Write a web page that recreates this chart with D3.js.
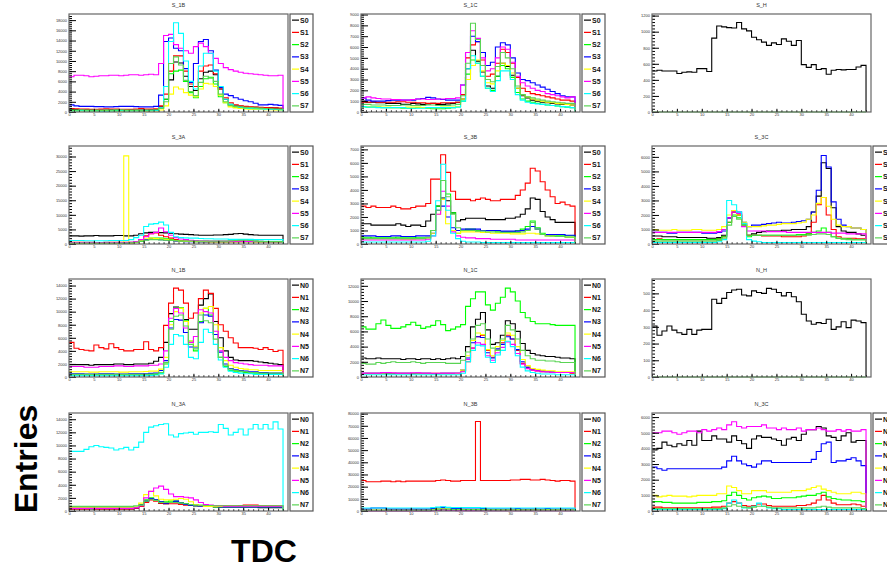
<!DOCTYPE html>
<html lang="en">
<head>
<meta charset="UTF-8">
<title>TDC histograms</title>
<script src="https://d3js.org/d3.v7.min.js"></script>
<style>
  body { margin: 0; background: #fff; }
  svg { display: block; font-family: "Liberation Sans", Arial, sans-serif; }
</style>
</head>
<body>
<div id="chart"></div>
<script>
// ---- data: 43 TDC bins per series ----
const panelTitles = ["S_1B", "S_1C", "S_H", "S_3A", "S_3B", "S_3C", "N_1B", "N_1C", "N_H", "N_3A", "N_3B", "N_3C"];
const yMax  = [19200, 9050, 1220, 33600, 7250, 6750, 15000, 12900, 586, 14950, 80500, 6260];
const yStep = [2000, 1000, 200, 5000, 1000, 1000, 2000, 2000, 100, 2000, 10000, 1000];
const xTicks = [0, 5, 10, 15, 20, 25, 30, 35, 40];
const sLabels = ["S0", "S1", "S2", "S3", "S4", "S5", "S6", "S7"];
const nLabels = ["N0", "N1", "N2", "N3", "N4", "N5", "N6", "N7"];
const lineColors = ["#000000", "#ff0000", "#00ff00", "#0000ff", "#ffff00", "#ff00ff", "#00ffff", "#59d454"];

// S_1B
const s1b_0 = [500,500,450,450,450,400,400,400,450,450,400,400,450,400,400,400,450,500,1000,2500,6300,9800,9600,7000,5000,4200,6500,7800,8000,7300,4500,2500,1500,1200,1100,1000,900,900,850,800,800,750,700];
const s1b_1 = [700,650,600,600,550,550,600,650,600,600,550,550,550,600,700,600,600,650,1200,3500,8000,11000,11000,8000,5500,5000,8000,9000,9200,7500,4500,2800,1800,1400,1200,1100,1000,950,900,850,800,800,750];
const s1b_2 = [300,300,300,250,250,300,300,250,250,300,300,250,300,300,250,250,300,300,700,2500,7500,8000,8200,6000,3800,2800,5000,6500,6800,5500,3000,1800,1200,900,800,700,650,600,600,550,500,500,450];
const s1b_3 = [1400,1200,1100,1100,1100,1050,1050,1000,1000,1050,1100,1100,1100,1050,1000,1000,1000,1100,3300,13800,14500,12500,12000,8500,5800,9500,13800,14200,12000,8200,4800,3500,3200,2800,2500,2200,2000,1700,1400,1400,1500,1400,1300];
const s1b_4 = [200,200,200,200,150,150,200,200,200,150,150,200,200,200,150,150,200,200,400,1200,3500,4900,4500,3800,3300,3000,4500,5600,5500,5000,3300,1800,1000,800,700,600,550,500,500,450,450,400,400];
const s1b_5 = [6900,7200,7200,7100,6900,7000,7100,7100,7200,7200,7100,7200,7300,7300,7200,7300,7400,7300,9500,15000,15200,13200,12500,12000,11500,12800,13500,12800,11500,10500,9500,8700,8300,8000,7800,7600,7500,7400,7300,7200,7100,7100,7200];
const s1b_6 = [200,200,250,200,200,200,150,150,200,200,250,200,200,200,200,250,250,300,800,5000,13800,17500,15400,10000,6000,4500,9000,11500,11500,8000,5000,2500,1500,1100,900,800,700,650,600,550,500,500,450];
const s1b_7 = [400,400,450,400,400,400,350,400,400,450,450,400,400,400,350,400,400,450,700,2000,9500,10800,9200,6200,4000,3200,5800,7000,6600,6000,3500,2000,1300,1100,1000,900,850,800,750,700,650,600,600];

// S_1C
const s1c_0 = [1000,900,900,850,850,800,800,800,700,700,800,750,700,750,800,700,700,750,800,900,1200,4000,5700,4700,3700,2400,2200,3300,4500,4200,3400,2200,1500,1300,1100,1000,900,850,800,750,700,700,650];
const s1c_1 = [900,900,950,900,900,900,900,950,950,900,900,850,850,800,800,800,850,850,850,900,1600,5000,6200,6500,4800,3300,3500,4500,5800,5500,4500,3200,2200,1900,1700,1600,1500,1400,1300,1200,1100,1100,1000];
const s1c_2 = [500,450,450,450,400,400,400,400,350,350,350,400,400,350,300,300,300,350,400,500,1000,3500,4800,4500,3300,2200,2000,3300,4300,4000,3200,1800,1200,1000,900,800,700,650,600,550,500,450,400];
const s1c_3 = [1300,1100,1000,1000,1000,1050,1100,1100,1100,1100,1100,1200,1250,1350,1300,1200,1150,1100,1100,1100,2500,5500,7000,6500,5500,4300,4600,6000,6400,6200,5000,3600,3000,2900,2700,2500,2300,2100,1900,1700,1500,1400,1400];
const s1c_4 = [500,500,450,450,450,450,400,400,400,450,450,450,400,400,400,400,450,450,450,500,1200,3000,4300,4800,3800,2700,2600,3800,4500,4300,3600,2200,1600,1400,1200,1100,1000,900,850,800,750,700,650];
const s1c_5 = [1300,1400,1300,1250,1200,1200,1150,1150,1100,1100,1150,1200,1200,1150,1150,1200,1200,1250,1250,1300,2500,5500,7500,6800,5000,3800,4000,5000,6000,5800,4600,3300,2700,2400,2200,2000,1900,1700,1600,1500,1400,1300,1400];
const s1c_6 = [500,450,450,400,400,400,400,400,400,350,350,350,350,400,400,400,400,400,400,450,1000,4000,5200,4500,3300,2200,1900,2900,3800,3800,3000,1600,1100,900,800,750,700,650,600,550,500,450,400];
const s1c_7 = [700,700,650,650,650,600,600,600,650,650,600,600,600,650,650,600,600,600,650,700,1500,4500,8200,6700,4300,3000,2800,4200,5500,5000,4000,2400,1600,1400,1300,1200,1100,1000,950,900,850,800,800];

// S_H
const sh_0 = [510,520,510,510,510,480,495,500,495,540,540,505,920,1070,1060,1050,1045,1115,1035,1010,930,900,870,830,860,840,910,880,830,890,590,555,590,530,540,470,520,530,525,530,530,560,580];
const sh_7 = [0,0,0,0,0,0,0,0,0,0,0,0,0,0,0,0,0,0,0,0,0,0,0,0,0,0,0,0,0,0,0,0,0,0,0,0,0,0,0,0,0,0,0];

// S_3A
const s3a_0 = [2800,2800,2700,2800,2800,2900,2800,2800,2800,2900,2900,2800,2800,3000,3500,3800,4000,4000,3900,3800,3700,3500,3400,3300,3200,3100,3000,3000,3000,3100,3100,3200,3300,3500,3600,3400,3200,3100,3000,3000,3000,3000,3000];
const s3a_1 = [600,600,600,550,550,500,500,550,550,600,600,600,600,800,1500,2800,3500,3800,3000,2500,2000,1500,1200,1000,900,900,850,800,800,800,800,750,750,800,900,900,850,800,800,750,750,700,700];
const s3a_2 = [300,300,300,300,300,300,300,300,300,300,300,300,300,500,1000,1500,2000,2000,2000,1800,1500,1200,1000,900,900,800,800,800,800,800,800,800,900,1200,1400,1500,1400,1000,800,800,700,700,700];
const s3a_3 = [400,400,400,400,400,400,400,400,400,400,400,400,400,600,1200,1500,1800,1700,1500,1300,1200,1000,900,800,800,800,700,700,700,700,700,700,700,700,700,700,700,700,700,700,700,700,700];
const s3a_4 = [200,200,200,200,200,200,200,200,200,200,200,30200,200,500,1200,1800,2000,1900,1700,1500,1300,1100,1000,900,900,800,800,800,700,700,700,700,700,700,700,700,700,700,700,700,700,700,700];
const s3a_5 = [500,500,500,500,500,500,500,500,500,500,500,500,600,800,1500,2500,3500,4000,5500,4200,3000,2200,1700,1500,1300,1200,1100,1100,1000,1000,1000,1000,1000,1000,1000,900,900,900,900,800,800,800,800];
const s3a_6 = [1200,1200,1200,1100,1100,1100,1100,1100,1200,1200,1200,1200,1500,2200,3000,6000,6800,7000,7500,6500,4000,2500,2200,2100,2000,2000,1900,1800,1800,1700,1700,1700,1600,1600,1600,1600,1600,1500,1500,1500,1500,1500,1500];
const s3a_7 = [300,300,300,300,300,300,300,300,300,300,300,300,400,600,1000,1300,1500,1500,1400,1300,1200,1100,1000,1000,1000,1000,1000,1000,1000,1000,1000,1000,1100,1200,1300,1300,1200,1000,900,800,800,800,800];

// S_3B
const s3b_0 = [1500,1500,1400,1400,1400,1400,1400,1500,1400,1300,1400,1400,1300,1700,2200,2800,3400,3200,2300,1700,1800,1900,1900,1900,1900,1800,1800,1800,1800,1900,1900,2000,2200,2600,3400,3300,2400,2000,1800,1600,1600,1600,1600];
const s3b_1 = [2800,2700,2800,2700,2700,2700,2800,2700,2600,2600,2700,2800,2800,3000,4800,4800,6600,5300,3900,3300,3300,3300,3200,3300,3400,3300,3200,3200,3300,3300,3300,3600,4000,4500,5600,5400,4600,4000,3500,3000,3100,2900,2800];
const s3b_2 = [500,500,450,450,450,450,450,500,500,500,500,450,450,500,1000,2800,4700,3700,2300,800,1000,1100,1100,1000,1000,1000,1000,900,900,900,900,1000,1100,1300,1700,1200,800,700,600,600,600,600,600];
const s3b_3 = [600,600,600,550,550,550,600,600,550,550,550,600,600,600,800,2500,2800,2000,1200,1000,1100,1100,1100,1100,1000,1000,1000,1000,950,950,950,950,1000,1100,1300,1100,700,700,700,700,700,650,650];
const s3b_4 = [400,400,400,400,400,400,400,400,350,350,350,400,400,450,800,2200,3300,1500,1000,800,900,900,900,900,850,850,800,800,800,800,750,750,750,800,800,750,700,600,600,550,550,500,500];
const s3b_5 = [300,300,300,300,300,300,300,300,300,300,300,300,300,350,600,2200,3900,2800,900,600,500,450,450,400,400,400,350,350,350,350,350,300,300,300,300,300,300,300,300,300,300,300,300];
const s3b_6 = [150,150,150,150,150,150,150,150,150,150,150,150,150,200,600,3200,5900,2500,800,400,200,150,150,150,100,100,100,100,100,100,100,100,100,100,100,100,100,100,100,100,100,100,100];
const s3b_7 = [400,400,400,400,400,400,400,400,400,400,400,400,400,450,1000,2500,4700,3500,2200,1200,1000,1000,1000,950,950,900,900,900,850,850,850,850,900,1000,1600,1100,700,600,600,550,550,500,500];

// S_3C
const s3c_0 = [550,550,500,500,500,450,450,450,450,450,450,400,400,450,600,1800,2200,2000,1400,600,700,800,850,900,900,900,950,950,1000,1000,1000,1200,2200,3300,5600,5200,2500,1200,900,800,800,700,600];
const s3c_1 = [300,350,300,300,300,300,300,300,300,300,300,300,300,350,500,1500,2200,2000,1300,600,600,600,550,550,550,550,500,500,500,500,550,700,1500,2700,3200,2000,1000,500,400,400,400,350,350];
const s3c_2 = [300,300,300,300,300,300,300,300,300,300,300,300,300,350,500,1500,2000,1800,1300,500,600,600,600,600,600,600,600,600,600,650,650,700,800,900,1100,800,500,400,350,350,300,300,300];
const s3c_3 = [800,800,800,750,750,800,800,800,800,800,750,750,750,800,900,1800,2300,2200,1500,1200,1300,1300,1350,1400,1450,1500,1450,1450,1500,1550,1600,1700,2200,3700,6100,5300,2900,1700,1300,1200,1100,1100,1000];
const s3c_4 = [1000,950,950,950,1000,950,950,950,1000,1000,950,950,950,1000,1200,2000,2300,2000,1500,1200,1200,1200,1250,1300,1300,1350,1400,1400,1400,1450,1500,1700,2000,2800,3200,2600,1700,1300,1200,1200,1100,1100,1000];
const s3c_5 = [800,800,800,800,800,800,800,800,800,800,800,800,800,850,1000,1800,2200,2100,1200,900,900,900,900,850,850,850,850,800,800,800,800,800,800,800,800,800,750,750,750,700,700,700,700];
const s3c_6 = [100,100,100,100,100,100,100,100,100,100,100,100,100,150,300,3000,2700,2200,1400,300,200,150,100,100,100,100,100,100,100,100,100,100,100,100,100,100,100,100,100,100,100,100,100];
const s3c_7 = [200,200,200,200,200,200,200,200,200,200,200,200,200,250,400,1300,1900,1700,1300,600,600,600,600,600,600,600,600,600,600,600,600,600,650,700,700,650,500,400,350,300,300,300,300];

// N_1B
const n1b_0 = [1900,1900,1900,1900,1800,1900,1900,1900,1900,2000,2000,1900,1900,2000,2000,2000,2100,2400,3000,5300,9700,10700,10500,8800,7300,7300,11000,12000,12700,8500,6000,4000,3000,2600,2500,2500,2500,2400,2300,2200,2100,2000,1900];
const n1b_1 = [5300,4400,4200,4100,4000,4900,4500,4300,5100,4500,4200,4000,4000,4200,4200,5400,4200,4000,4500,7900,11300,13600,13300,11300,9000,9800,12000,13300,12800,10500,8000,7000,6000,5200,4500,4500,4500,4400,4200,4500,4200,3900,4100];
const n1b_2 = [300,300,300,300,300,300,300,300,300,300,300,300,300,300,300,300,350,400,500,2000,8500,10600,10600,8600,5500,4000,8500,10500,9500,6500,3000,1600,1000,900,800,700,600,600,600,500,500,500,500];
const n1b_3 = [500,500,500,450,450,450,500,500,500,450,450,450,500,500,500,500,550,600,1000,2500,7500,8800,8700,6800,4600,4600,8300,9500,9300,6500,3800,2000,1300,1100,1000,900,800,800,700,700,600,600,600];
const n1b_4 = [800,800,800,800,750,750,800,800,800,800,750,750,800,800,800,850,900,900,1200,3000,8000,10000,10500,8500,5500,4700,9800,10500,10800,8000,4500,2500,1800,1500,1300,1200,1100,1100,1000,1000,1000,1000,1000];
const n1b_5 = [1600,1600,1600,1500,1500,1500,1600,1600,1600,1700,1700,1600,1600,1700,1700,1700,1800,1800,2000,4000,9000,10500,9800,7500,5300,6200,10300,10000,9800,7000,4000,3000,2500,2200,2100,2000,1900,1800,1800,1800,1700,1700,1700];
const n1b_6 = [200,200,200,200,200,200,200,200,200,200,200,200,200,200,200,200,250,300,500,1500,5000,6500,6300,5000,3000,2800,5300,7300,6800,5000,2600,1500,900,700,600,500,500,400,400,400,400,400,400];
const n1b_7 = [400,400,400,400,400,400,400,400,400,400,400,400,400,400,400,400,450,500,700,2200,7300,9300,9500,7800,5000,4300,9500,8600,8300,5800,3000,1800,1200,1000,900,800,700,700,600,600,600,600,600];

// N_1C
const n1c_0 = [2500,2400,2400,2500,2400,2400,2400,2400,2300,2400,2400,2300,2400,2400,2300,2400,2300,2400,2500,2400,2700,4000,6600,7600,8500,6200,4300,4500,5500,7400,7000,6000,4400,3500,3100,2900,2800,2700,2700,2600,2500,2500,2400];
const n1c_1 = [500,500,500,500,550,550,500,500,500,500,500,500,500,500,500,500,500,500,500,500,800,2000,3800,5300,5500,3500,2600,3500,4500,5500,5000,3500,1800,1200,900,800,700,700,600,600,600,600,500];
const n1c_2 = [6600,6300,6300,7000,7500,6800,6400,6400,6600,6900,7200,6800,6400,6600,6800,7400,6900,6100,6300,6600,6900,9300,10300,11200,11200,9500,8800,9700,10500,11700,11200,10000,8500,7800,7300,7000,7000,7000,6900,6800,6800,6800,6800];
const n1c_3 = [500,500,500,500,500,450,450,500,500,500,450,500,500,500,450,450,500,500,500,500,900,2500,4500,5300,5200,3200,2500,3700,4300,5300,5000,3600,2000,1300,1000,900,800,700,700,600,600,600,600];
const n1c_4 = [400,400,400,400,400,400,400,400,400,400,400,400,400,400,400,400,400,400,400,450,900,2800,4800,5800,5600,3600,2800,4000,4800,5800,5500,4000,2300,1500,1100,1000,900,800,800,700,700,700,700];
const n1c_5 = [500,500,500,500,600,600,550,500,500,500,550,550,500,500,500,500,500,500,500,500,700,2300,3800,4500,4300,2800,2200,3200,3900,4600,4300,3100,1700,1100,900,800,700,700,600,600,600,600,600];
const n1c_6 = [300,300,300,300,300,300,300,300,300,300,300,300,300,300,300,300,300,300,300,300,500,2000,3500,4200,4100,2600,1900,2900,3500,4700,4000,2800,1300,800,600,500,400,400,400,300,300,300,300];
const n1c_7 = [1800,1700,1700,1900,1800,1900,2000,1900,1900,1900,2000,1900,1800,1900,1900,1900,1900,1800,1800,1800,2200,3300,5000,6800,7000,5000,3800,3500,5000,6800,6200,5000,3500,2800,2400,2200,2200,2100,2100,2000,1900,1900,1900];

// N_H
const nh_0 = [305,250,275,305,280,265,255,285,255,280,285,285,465,440,470,505,520,525,490,485,515,505,500,530,525,505,485,505,480,450,375,335,315,325,320,345,285,300,330,295,340,335,325];
const nh_7 = [0,0,0,0,0,0,0,0,0,0,0,0,0,0,0,0,0,0,0,0,0,0,0,0,0,0,0,0,0,0,0,0,0,0,0,0,0,0,0,0,0,0,0];

// N_3A
const n3a_0 = [300,300,300,300,300,300,300,300,300,300,300,300,300,400,700,1500,1800,1600,1200,1100,1300,1400,1300,1100,900,800,700,700,700,600,600,600,600,600,600,600,600,600,500,500,500,500,500];
const n3a_1 = [300,300,300,300,400,300,300,300,300,300,300,300,300,400,700,1300,1700,1500,1200,1100,1100,1100,1000,900,900,800,800,800,800,800,800,800,800,800,850,900,900,900,800,800,800,800,800];
const n3a_2 = [500,500,500,500,500,500,500,500,500,500,500,500,500,600,1000,1700,2000,1700,1400,1400,1500,1500,1300,1100,900,800,700,700,700,600,600,600,600,600,600,600,600,600,600,600,600,600,600];
const n3a_3 = [400,400,400,400,400,400,400,400,400,400,400,400,400,500,900,1500,1900,1700,1400,1200,1300,1500,1200,1000,900,800,700,700,700,700,600,600,600,600,600,600,600,600,600,600,600,600,600];
const n3a_4 = [500,500,500,500,500,500,500,500,500,500,500,500,500,600,1200,2500,3000,2300,1800,1700,1700,1800,1900,1800,1400,1000,800,700,700,700,700,700,700,700,700,700,700,700,700,700,700,700,700];
const n3a_5 = [400,400,400,400,400,400,400,400,400,400,400,400,400,500,800,2000,3000,3500,3800,3300,2600,2200,2200,2100,2000,1700,1300,1000,900,800,800,700,700,700,700,700,700,700,700,700,700,700,700];
const n3a_6 = [9100,9100,9100,9400,9800,10000,9800,9700,9600,9300,9500,9700,9300,9700,10500,12000,12800,13000,13200,13300,11600,11300,11800,11900,12000,11700,12000,12000,12100,12000,13200,12600,11600,12000,12500,11600,12500,13200,12500,13200,12500,13600,12500];
const n3a_7 = [700,700,700,700,700,700,700,700,700,700,700,700,700,800,900,1500,1800,1600,1300,1300,1300,1300,1200,1100,1000,900,900,850,850,800,800,800,800,800,800,800,800,800,800,800,800,800,800];

// N_3B
const n3b_0 = [500,500,500,500,500,500,500,500,500,500,500,500,500,500,500,800,1000,800,700,600,600,600,600,600,600,600,600,600,600,600,600,600,1000,1000,1000,800,600,600,600,600,600,600,600];
const n3b_1 = [25000,24000,24000,24000,24500,24500,24000,24500,24000,24500,24500,24500,24500,24500,24500,25000,25500,25000,24500,24500,25000,25000,25000,73500,25000,25000,25000,25000,25000,25000,25500,25500,26000,26000,25500,25500,26000,25500,25000,24500,25000,25000,24500];
const n3b_2 = [300,300,300,300,300,300,300,300,300,300,300,300,300,300,500,1200,1500,1200,1000,900,900,900,900,900,1000,1000,900,800,800,800,700,700,700,700,700,700,700,700,700,700,700,700,700];
const n3b_3 = [1500,1500,2500,2500,2500,1500,1500,1500,1500,1500,1500,1500,1500,1500,2000,2500,3000,2500,2000,2000,2500,2500,2500,2500,2000,1500,1500,1500,1500,1500,1500,2000,1500,1500,1500,1500,1500,2000,1500,1500,1500,1500,1500];
const n3b_4 = [500,500,500,500,500,500,500,500,500,500,500,500,500,500,800,1500,2000,1500,1000,800,800,800,800,800,700,700,700,700,700,700,700,700,700,700,700,700,700,700,700,700,700,700,700];
const n3b_5 = [100,100,100,100,100,100,100,100,100,100,100,100,100,100,300,700,1000,700,400,300,300,300,300,300,300,300,300,200,200,200,200,200,200,200,200,200,200,200,200,200,200,200,200];
const n3b_6 = [2500,2500,2500,2500,2500,2500,2500,2500,2500,2500,2500,2500,2500,2500,2800,3200,3500,3000,2800,2800,2800,2800,2800,2800,2600,2500,2500,2500,2500,2500,2500,2500,2500,2500,2500,2500,2500,2500,2500,2500,2500,2500,2500];
const n3b_7 = [600,600,600,600,600,600,600,600,600,600,600,600,600,600,800,1500,1800,1400,1100,1000,1000,1000,1000,900,900,900,900,900,800,800,800,800,800,800,800,800,800,800,800,800,800,800,800];

// N_3C
const n3c_0 = [3900,4000,4400,4200,4100,4300,4200,4500,4200,5100,4500,4500,4800,4600,4600,4400,4800,4500,4300,4000,4600,4800,4700,4700,4600,4500,4200,4600,4700,4500,4900,5200,5200,5400,5300,4800,4700,4500,4800,5000,4400,4500,4500];
const n3c_1 = [250,250,200,200,200,200,200,200,200,200,200,200,250,250,300,500,600,500,350,300,350,450,450,350,300,300,300,300,300,350,350,400,500,700,1000,700,500,400,400,400,450,400,300];
const n3c_2 = [600,600,550,550,500,500,500,500,500,550,550,550,600,600,650,1000,1200,1000,800,700,850,900,950,900,800,800,850,850,850,900,950,1000,1000,1100,1200,900,800,750,700,700,650,650,600];
const n3c_3 = [2800,2700,2600,2700,2700,2700,2700,2700,2700,2700,2700,2700,2700,2700,2800,3200,3500,3200,3000,2900,2800,3000,3200,3200,3100,3100,3100,3100,3100,3100,3100,3100,3300,3800,4300,4400,3100,3200,3200,3300,3400,3200,2900];
const n3c_4 = [1000,900,950,1000,950,950,950,900,950,1000,1000,1000,1000,1100,1100,1600,1500,1300,1100,1100,1300,1300,1300,1200,1200,1200,1200,1200,1300,1300,1300,1400,1500,1600,1400,1300,1200,1100,1100,1100,1200,1200,1100];
const n3c_5 = [5000,5000,5100,5100,5000,4900,5000,5100,5100,5000,5200,5100,5200,5300,5200,5500,5700,5400,5300,5400,5400,5400,5500,5300,5300,5200,5300,5200,5200,5300,5100,5200,5200,5300,5200,5100,5100,5200,5100,5200,5100,5100,5200];
const n3c_6 = [100,100,100,100,100,100,100,100,100,100,100,100,100,100,150,500,700,500,200,200,300,500,300,200,150,150,100,100,100,100,100,100,100,100,100,100,100,100,100,100,100,100,100];
const n3c_7 = [150,150,150,150,150,150,150,150,150,150,150,150,150,150,200,300,400,300,250,200,250,300,300,250,200,200,200,200,200,200,200,200,200,250,300,250,200,200,200,200,200,200,150];

const panelSeries = [
  [s1b_0, s1b_1, s1b_2, s1b_3, s1b_4, s1b_5, s1b_6, s1b_7],
  [s1c_0, s1c_1, s1c_2, s1c_3, s1c_4, s1c_5, s1c_6, s1c_7],
  [sh_0, null, null, null, null, null, null, sh_7],
  [s3a_0, s3a_1, s3a_2, s3a_3, s3a_4, s3a_5, s3a_6, s3a_7],
  [s3b_0, s3b_1, s3b_2, s3b_3, s3b_4, s3b_5, s3b_6, s3b_7],
  [s3c_0, s3c_1, s3c_2, s3c_3, s3c_4, s3c_5, s3c_6, s3c_7],
  [n1b_0, n1b_1, n1b_2, n1b_3, n1b_4, n1b_5, n1b_6, n1b_7],
  [n1c_0, n1c_1, n1c_2, n1c_3, n1c_4, n1c_5, n1c_6, n1c_7],
  [nh_0, null, null, null, null, null, null, nh_7],
  [n3a_0, n3a_1, n3a_2, n3a_3, n3a_4, n3a_5, n3a_6, n3a_7],
  [n3b_0, n3b_1, n3b_2, n3b_3, n3b_4, n3b_5, n3b_6, n3b_7],
  [n3c_0, n3c_1, n3c_2, n3c_3, n3c_4, n3c_5, n3c_6, n3c_7]
];

// ---- layout ----
const width = 887, height = 568;
const colLeft = [69, 361, 652];
const rowTop = [14, 146, 279, 413];
const frameW = 219, frameH = 98;
const legendW = 23;
const nBins = 43;

const svg = d3.select("#chart").append("svg")
  .attr("width", width).attr("height", height);

const stepLine = d3.line().curve(d3.curveStepAfter);

panelTitles.forEach((title, p) => {
  const fx = colLeft[p % 3], fy = rowTop[Math.floor(p / 3)];
  const x = d3.scaleLinear().domain([0, 44]).range([fx, fx + frameW]);
  const y = d3.scaleLinear().domain([0, yMax[p]]).range([fy + frameH, fy]);
  const g = svg.append("g");

  g.append("rect")
    .attr("x", fx).attr("y", fy).attr("width", frameW).attr("height", frameH)
    .attr("fill", "#fff");

  // histograms, S0 first so S7 ends on top
  panelSeries[p].forEach((vals, k) => {
    if (!vals) return;
    if (vals.length !== nBins) console.warn(title, k, vals.length);
    const pts = vals.map((v, i) => [x(i), y(v)]);
    pts.push([x(nBins), y(vals[nBins - 1])], [x(nBins), y(0)]);
    g.append("path")
      .attr("d", stepLine(pts))
      .attr("fill", "none")
      .attr("stroke", lineColors[k])
      .attr("stroke-width", 1.1);
  });

  // y axis: ticks point into the frame
  const yMajor = d3.range(0, yMax[p] + 1, yStep[p]);
  const yMinor = d3.range(0, yMax[p], yStep[p] / 5);
  g.append("g").attr("transform", `translate(${fx},0)`)
    .call(d3.axisLeft(y).tickValues(yMinor).tickSize(-3).tickFormat(""))
    .call(a => a.select(".domain").remove());
  g.append("g").attr("transform", `translate(${fx},0)`)
    .call(d3.axisLeft(y).tickValues(yMajor).tickSize(-7).tickPadding(2).tickFormat(d3.format("d")))
    .call(a => a.select(".domain").remove())
    .call(a => a.selectAll("text").attr("font-size", 4).attr("fill", "#333"));

  // x axis: ticks point up into the frame
  g.append("g").attr("transform", `translate(0,${fy + frameH})`)
    .call(d3.axisBottom(x).tickValues(d3.range(0, 44)).tickSize(-1.6).tickFormat(""))
    .call(a => a.select(".domain").remove());
  g.append("g").attr("transform", `translate(0,${fy + frameH})`)
    .call(d3.axisBottom(x).tickValues(xTicks).tickSize(-3.2).tickPadding(2).tickFormat(d3.format("d")))
    .call(a => a.select(".domain").remove())
    .call(a => a.selectAll("text").attr("font-size", 4).attr("fill", "#333").attr("dy", "0.5em"));

  g.append("rect")
    .attr("x", fx).attr("y", fy).attr("width", frameW).attr("height", frameH)
    .attr("fill", "none").attr("stroke", "#666").attr("stroke-width", 1.2);

  g.append("text")
    .attr("x", fx + frameW / 2).attr("y", fy - 7)
    .attr("text-anchor", "middle")
    .attr("font-size", 5.5).attr("fill", "#333")
    .text(title);

  // legend (not drawn for the single-channel H panels)
  if (title.endsWith("_H")) return;
  const labels = title.startsWith("S") ? sLabels : nLabels;
  const lx = fx + frameW + 2;
  const lg = g.append("g");
  lg.append("rect")
    .attr("x", lx).attr("y", fy).attr("width", legendW).attr("height", frameH)
    .attr("fill", "#fff").attr("stroke", "#555").attr("stroke-width", 1.2);
  const rowH = frameH / labels.length;
  labels.forEach((lab, k) => {
    const ly = fy + rowH * (k + 0.5);
    lg.append("line")
      .attr("x1", lx + 2).attr("x2", lx + 9).attr("y1", ly).attr("y2", ly)
      .attr("stroke", lineColors[k]).attr("stroke-width", 1.2);
    lg.append("text")
      .attr("x", lx + 10).attr("y", ly).attr("dy", "0.35em")
      .attr("font-size", 7).attr("font-weight", "bold").attr("fill", "#111")
      .text(lab);
  });
});

// big axis captions
svg.append("text")
  .attr("transform", "translate(37,459) rotate(-90)")
  .attr("text-anchor", "middle")
  .attr("font-size", 32).attr("font-weight", "bold").attr("fill", "#000")
  .text("Entries");

svg.append("text")
  .attr("x", 264).attr("y", 562)
  .attr("text-anchor", "middle")
  .attr("font-size", 32).attr("font-weight", "bold").attr("fill", "#000")
  .text("TDC");
</script>
</body>
</html>
